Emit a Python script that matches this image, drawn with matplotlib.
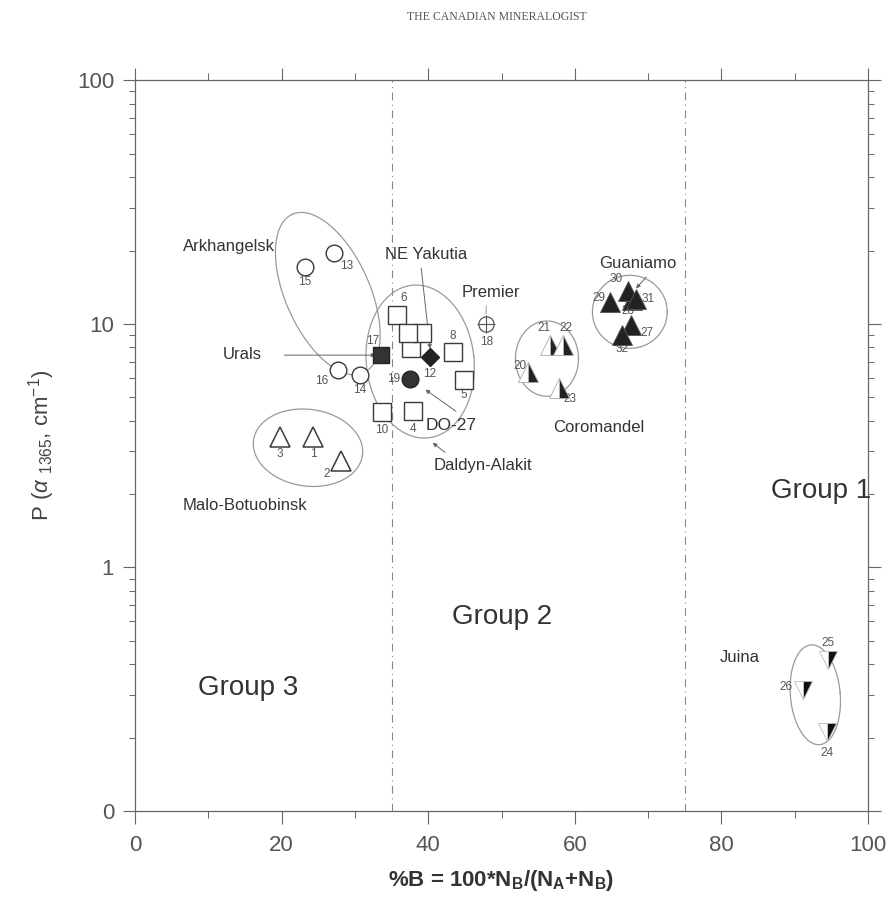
import numpy as np
import matplotlib
matplotlib.use("Agg")
import matplotlib.pyplot as plt

plt.rcParams['font.family'] = ['Liberation Sans', 'DejaVu Sans']
plt.rcParams['mathtext.fontset'] = 'custom'
plt.rcParams['mathtext.rm'] = 'Liberation Sans'
plt.rcParams['mathtext.it'] = 'Liberation Sans:italic'

# ---------------- data ----------------
malo_x = [24.3, 28.1, 19.8]; malo_y = [3.43, 2.73, 3.43]; malo_id = ["1", "2", "3"]
ark_x = [27.1, 30.7, 23.2, 27.7]; ark_y = [19.5, 6.16, 17.1, 6.45]; ark_id = ["13", "14", "15", "16"]
dal_x = [37.9, 44.9, 35.7, 37.7, 43.4, 39.2, 33.7, 37.2]
dal_y = [4.38, 5.88, 10.9, 7.95, 7.65, 9.16, 4.34, 9.16]
dal_id = ["4", "5", "6", "7", "8", "9", "10", "11"]
urals_x = [33.6]; urals_y = [7.44]
yak_x = [40.2]; yak_y = [7.3]
do27_x = [37.5]; do27_y = [5.93]
prem_x = [47.9]; prem_y = [9.97]
coro_x = [53.6, 56.6, 58.4, 57.8]; coro_y = [6.34, 8.18, 8.18, 5.45]; coro_id = ["20", "21", "22", "23"]
guan_x = [67.7, 67.8, 64.8, 67.2, 68.3, 66.5]
guan_y = [9.88, 12.5, 12.3, 13.6, 12.6, 8.99]
guan_id = ["27", "28", "29", "30", "31", "32"]
juina_x = [94.4, 94.5, 91.1]; juina_y = [0.211, 0.417, 0.314]; juina_id = ["24", "25", "26"]

xticks = [0, 20, 40, 60, 80, 100]
yticks = [0.1, 1, 10, 100]
ytick_labels = ["0", "1", "10", "100"]
group_bounds = [35, 75]

# ---------------- figure ----------------
fig = plt.figure(figsize=(8.94, 9.10), dpi=100)
ax = fig.add_axes([0.151, 0.1088, 0.820, 0.803])
ax.set_xlim(0, 100)
ax.set_yscale('log')
ax.set_ylim(0.1, 100)

axc = '#666666'
for s in ax.spines.values():
    s.set_color(axc); s.set_linewidth(0.9)
ax.set_xticks(xticks)
ax.set_xticks([10, 30, 50, 70, 90], minor=True)
ax.set_yticks(yticks)
ax.set_yticklabels(ytick_labels)
ax.tick_params(which='both', direction='out', colors=axc, labelcolor='#555555',
               top=True, right=True, labelsize=16)
ax.tick_params(which='major', length=9, width=0.8)
ax.tick_params(which='minor', length=5, width=0.7)
ax.tick_params(axis='y', which='minor', length=4)
ax.tick_params(axis='x', pad=8)
ax.tick_params(axis='y', pad=6)

for b in group_bounds:
    ax.axvline(b, color='#888888', lw=0.8, ls=(0, (7, 4, 1, 4)))

def ellipse(cx, cy, w, h, ang, color='#9a9a9a'):
    t = np.linspace(0, 2 * np.pi, 200)
    a = np.deg2rad(ang)
    u = w / 2 * np.cos(t); v = h / 2 * np.sin(t)
    dx = u * np.cos(a) - v * np.sin(a)
    dy = u * np.sin(a) + v * np.cos(a)
    ax.plot(cx + dx * 100, 10 ** (np.log10(cy) + dy * 3), color=color, lw=0.9)

# ellipses (axes-fraction sizes)
ellipse(26.3, 13.3, 0.238, 0.115, 114)    # Arkhangelsk
ellipse(38.9, 7.0, 0.147, 0.210, 6)       # Daldyn-Alakit
ellipse(23.6, 3.1, 0.150, 0.105, -8)      # Malo-Botuobinsk
ellipse(56.2, 7.2, 0.086, 0.103, 0)       # Coromandel
ellipse(67.5, 11.2, 0.102, 0.100, 0)      # Guaniamo
ellipse(92.8, 0.30, 0.068, 0.137, 5)      # Juina

ec = '#3a3a3a'
kw = dict(ls='none', clip_on=False, zorder=4)
ax.plot(malo_x, malo_y, marker='^', ms=15, mfc='white', mec=ec, mew=1.1, **kw)
ax.plot(ark_x, ark_y, marker='o', ms=12, mfc='white', mec=ec, mew=1.0, **kw)
ax.plot(dal_x, dal_y, marker='s', ms=13, mfc='white', mec=ec, mew=1.0, **kw)
ax.plot(urals_x, urals_y, marker='s', ms=12, mfc='#333333', mec='#222222', **kw)
ax.plot(yak_x, yak_y, marker='D', ms=9, mfc='#222222', mec='#222222', **kw)
ax.plot(do27_x, do27_y, marker='o', ms=12, mfc='#333333', mec='#222222', **kw)
ax.plot(prem_x, prem_y, marker='o', ms=11, mfc='white', mec='#555555', mew=0.9, **kw)
ax.plot(prem_x, prem_y, marker='+', ms=13, mec='#555555', mew=0.8, **kw)
ax.plot(coro_x, coro_y, marker='^', ms=14, fillstyle='right', mfc='#222222',
        mfcalt='white', mec='#aaaaaa', mew=0.6, **kw)
ax.plot(guan_x, guan_y, marker='^', ms=14, mfc='#222222', mec='#555555', mew=0.6, **kw)
ax.plot(juina_x, juina_y, marker='v', ms=13, fillstyle='right', mfc='#111111',
        mfcalt='white', mec='#bbbbbb', mew=0.6, **kw)

# point labels
nc = '#555555'
def lab(x, y, s, dx, dy):
    ax.annotate(s, (x, y), xytext=(dx, dy), textcoords='offset points',
                fontsize=8.5, color=nc, ha='center', va='center')

malo_off = [(0, -12), (-10, -9), (0, -12)]
for x, y, s, o in zip(malo_x, malo_y, malo_id, malo_off): lab(x, y, s, *o)
ark_off = [(9, -9), (0, -11), (0, -11), (-12, -8)]
for x, y, s, o in zip(ark_x, ark_y, ark_id, ark_off): lab(x, y, s, *o)
dal_off = [(0, -13), (0, -11), (5, 12), (0, -1), (0, 12), (0, 0), (0, -13), (0, -1)]
for x, y, s, o in zip(dal_x, dal_y, dal_id, dal_off): lab(x, y, s, *o)
lab(urals_x[0], urals_y[0], "17", -6, 10)
lab(yak_x[0], yak_y[0], "12", 0, -12)
lab(do27_x[0], do27_y[0], "19", -12, 0)
lab(prem_x[0], prem_y[0], "18", 0, -13)
coro_off = [(-6, 4), (-4, 12), (2, 12), (8, -8)]
for x, y, s, o in zip(coro_x, coro_y, coro_id, coro_off): lab(x, y, s, *o)
guan_off = [(11, -6), (-3, -8), (-8, 3), (-8, 9), (9, 0), (0, -10)]
for x, y, s, o in zip(guan_x, guan_y, guan_id, guan_off): lab(x, y, s, *o)
juina_off = [(0, -15), (0, 12), (-12, 2)]
for x, y, s, o in zip(juina_x, juina_y, juina_id, juina_off): lab(x, y, s, *o)

# group names and annotations
tc = '#333333'
arr = dict(arrowstyle='-|>', color='#666666', lw=0.7, mutation_scale=6)
ax.text(6.5, 20.7, "Arkhangelsk", fontsize=12, color=tc, va='center')
ax.text(6.5, 1.80, "Malo-Botuobinsk", fontsize=12, color=tc, va='center')
ax.text(12.0, 7.5, "Urals", fontsize=12, color=tc, va='center')
ax.annotate("", xy=(33.2, 7.44), xytext=(20.0, 7.44), arrowprops=arr)
ax.text(39.7, 19.3, "NE Yakutia", fontsize=12, color=tc, va='center', ha='center')
ax.annotate("", xy=(40.3, 7.7), xytext=(39.0, 17.4), arrowprops=arr)
ax.text(44.6, 13.4, "Premier", fontsize=12, color=tc, va='center')
ax.annotate("", xy=(47.9, 10.7), xytext=(47.9, 12.2),
            arrowprops=dict(arrowstyle='-', color='#888888', lw=0.6))
ax.text(39.6, 3.84, "DO-27", fontsize=12.5, color=tc, va='center')
ax.annotate("", xy=(39.3, 5.45), xytext=(44.1, 4.31), arrowprops=arr)
ax.text(40.8, 2.61, "Daldyn-Alakit", fontsize=12, color=tc, va='center')
ax.annotate("", xy=(40.3, 3.3), xytext=(42.6, 2.92), arrowprops=arr)
ax.text(57.0, 3.77, "Coromandel", fontsize=12, color=tc, va='center')
ax.text(63.3, 17.7, "Guaniamo", fontsize=12, color=tc, va='center')
ax.annotate("", xy=(68.1, 13.7), xytext=(70.0, 15.9), arrowprops=arr)
ax.text(79.8, 0.428, "Juina", fontsize=12, color=tc, va='center')
ax.text(86.8, 2.06, "Group 1", fontsize=20, color=tc, va='center')
ax.text(43.2, 0.625, "Group 2", fontsize=20, color=tc, va='center')
ax.text(8.6, 0.32, "Group 3", fontsize=20, color=tc, va='center')

ax.set_xlabel(r"%B = 100*N$_\mathregular{B}$/(N$_\mathregular{A}$+N$_\mathregular{B}$)",
              fontsize=16, fontweight='bold', color='#333333', labelpad=9)
ax.set_ylabel(r"P ($\alpha$ $_{\mathregular{1365}}$, cm$^{\mathregular{-1}}$)",
              fontsize=16, color='#444444', labelpad=14)

fig.text(0.556, 0.981, "THE CANADIAN MINERALOGIST", fontsize=8.5, family='Liberation Serif',
         color='#555555', ha='center', va='center')

fig.savefig("out.png", dpi=100)
